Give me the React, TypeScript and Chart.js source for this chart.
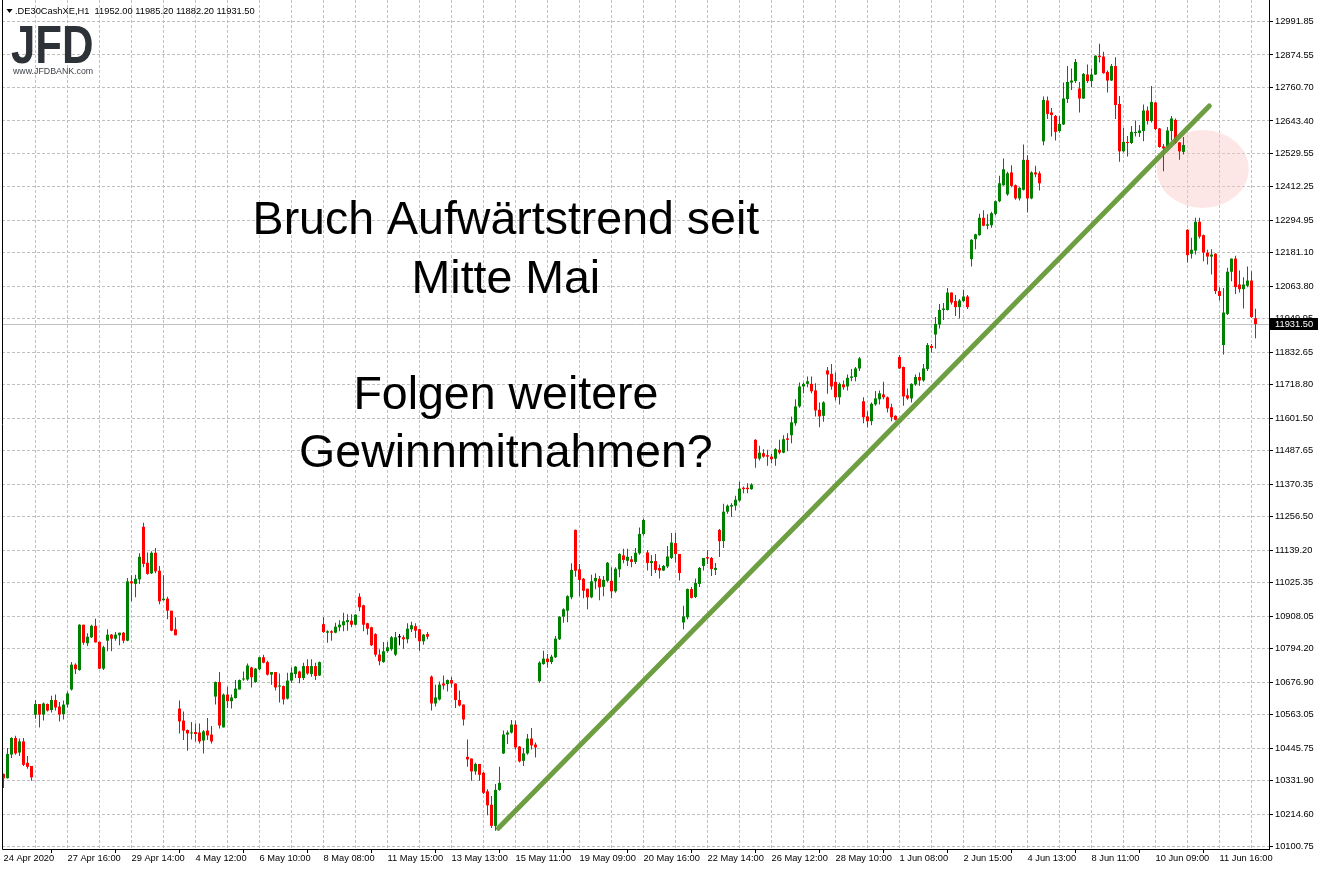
import React, { useEffect, useRef } from 'react';
import { Chart, registerables } from 'chart.js';

Chart.register(...registerables);

// ---- DATA (hourly bars, DE30CashXE) ----
const opens = [
  10355,10340,10423,10481,10430,10469,10394,10383,10563,10600,
  10563,10600,10579,10614,10591,10565,10598,10651,10738,10719,
  10878,10813,10834,10874,10818,10724,10822,10843,10829,10841,
  10850,10822,11030,11021,11037,11221,11095,11058,11130,11067,
  10964,10969,10927,10862,10584,10542,10509,10497,10502,10500,
  10472,10507,10493,10626,10677,10518,10633,10610,10621,10651,
  10686,10686,10728,10677,10722,10764,10747,10703,10712,10661,
  10663,10619,10682,10705,10714,10691,10733,10705,10733,10700,
  10880,10850,10855,10850,10869,10876,10887,10892,10878,10976,
  10946,10883,10869,10845,10773,10747,10785,10792,10773,10834,
  10834,10827,10862,10873,10862,10820,10845,10696,10602,10616,
  10672,10670,10684,10672,10614,10598,10415,10409,10364,10390,
  10359,10294,10247,10173,10299,10427,10493,10500,10528,10451,
  10401,10427,10479,10458,10680,10740,10759,10747,10764,10827,
  10906,10927,10974,11210,11072,11039,11004,10974,11030,11039,
  11011,11032,11032,10995,11072,11121,11102,11107,11098,11128,
  11196,11131,11094,11101,11077,11068,11082,11112,11164,11126,
  10886,10904,11003,10975,11021,11084,11115,11112,11070,11210,
  11171,11274,11292,11295,11313,11358,11358,11353,11526,11460,
  11479,11472,11467,11460,11491,11481,11531,11542,11584,11643,
  11713,11722,11722,11699,11631,11610,11769,11757,11729,11675,
  11720,11713,11743,11746,11776,11661,11608,11591,11650,11668,
  11685,11675,11640,11610,11816,11781,11682,11671,11720,11746,
  11734,11774,11855,11895,11930,11981,11981,12042,12012,11991,
  12012,12028,12159,12229,12243,12304,12276,12278,12318,12362,
  12418,12386,12463,12418,12372,12402,12507,12372,12463,12460,
  12572,12715,12673,12661,12608,12631,12720,12778,12783,12757,
  12722,12806,12783,12806,12872,12869,12815,12785,12836,12703,
  12537,12568,12566,12601,12601,12608,12680,12643,12708,12617,
  12554,12552,12608,12647,12568,12535,12262,12178,12189,12290,
  12243,12182,12168,12178,12047,11858,11967,12115,12161,12070,
  12054,12066,12084,11952.0,
];
const highs = [
  10357,10446,10484,10489,10479,10481,10418,10383,10614,10600,
  10605,10602,10629,10633,10607,10612,10644,10747,10743,10880,
  10878,10848,10878,10899,10818,10804,10862,10845,10852,10850,
  10852,11042,11051,11053,11128,11235,11131,11135,11147,11084,
  11051,10976,10927,10904,10612,10574,10511,10537,10532,10532,
  10509,10551,10523,10679,10712,10637,10661,10633,10684,10686,
  10714,10742,10731,10726,10766,10773,10752,10712,10712,10707,
  10665,10710,10728,10733,10717,10745,10757,10757,10745,10749,
  10904,10859,10859,10885,10894,10920,10915,10915,10915,10988,
  10948,10885,10871,10848,10792,10817,10817,10838,10852,10845,
  10841,10883,10888,10883,10864,10845,10852,10700,10668,10679,
  10700,10686,10696,10672,10647,10598,10476,10409,10394,10390,
  10362,10301,10278,10320,10380,10507,10507,10544,10542,10453,
  10446,10495,10516,10465,10750,10787,10775,10773,10838,10908,
  10936,10981,11093,11212,11091,11042,11004,11053,11058,11049,
  11049,11098,11079,11079,11128,11144,11144,11119,11147,11219,
  11250,11140,11122,11126,11089,11087,11154,11199,11199,11126,
  10944,11005,11010,11040,11080,11112,11140,11115,11094,11213,
  11302,11299,11304,11330,11379,11362,11374,11374,11528,11505,
  11493,11491,11477,11496,11526,11542,11549,11608,11668,11727,
  11727,11748,11748,11724,11657,11661,11781,11792,11762,11727,
  11734,11755,11774,11781,11816,11675,11626,11657,11697,11699,
  11729,11678,11652,11612,11823,11783,11706,11724,11755,11762,
  11792,11865,11862,11956,12002,12005,12058,12042,12033,12019,
  12052,12033,12229,12248,12318,12330,12316,12325,12365,12451,
  12512,12465,12488,12421,12411,12561,12523,12467,12486,12467,
  12729,12729,12689,12664,12661,12778,12836,12827,12860,12780,
  12811,12841,12827,12874,12914,12886,12820,12843,12867,12731,
  12619,12591,12626,12645,12629,12701,12694,12766,12710,12619,
  12563,12622,12661,12652,12570,12587,12264,12234,12304,12304,
  12245,12192,12194,12180,12061,12058,12129,12161,12171,12119,
  12096,12133,12117,11985.2,
];
const lows = [
  10306,10339,10411,10422,10418,10383,10373,10331,10548,10518,
  10542,10574,10570,10577,10539,10546,10588,10647,10705,10717,
  10808,10803,10831,10816,10722,10719,10785,10785,10822,10806,
  10813,10820,10960,10974,11021,11079,11053,11056,11058,10950,
  10962,10897,10855,10841,10497,10474,10436,10476,10469,10462,
  10427,10474,10462,10598,10514,10518,10586,10584,10619,10651,
  10682,10682,10658,10675,10719,10743,10700,10668,10647,10605,
  10598,10616,10675,10691,10673,10684,10703,10696,10684,10698,
  10850,10815,10822,10848,10855,10855,10857,10869,10876,10925,
  10855,10843,10803,10766,10736,10745,10780,10787,10768,10806,
  10794,10813,10852,10831,10787,10808,10827,10577,10591,10612,
  10651,10644,10658,10586,10591,10525,10380,10331,10352,10331,
  10285,10210,10166,10156,10296,10425,10460,10497,10441,10395,
  10383,10422,10441,10413,10675,10738,10728,10740,10761,10824,
  10885,10887,10967,11046,10978,10971,10932,10971,11002,10964,
  10978,11027,10971,10990,11044,11093,11084,11079,11091,11123,
  11191,11068,11049,11059,11040,11066,11077,11108,11096,11033,
  10862,10897,10970,10972,11010,11068,11091,11049,11052,11115,
  11147,11267,11255,11278,11309,11339,11339,11351,11428,11453,
  11463,11435,11444,11435,11475,11479,11486,11514,11575,11638,
  11689,11710,11689,11608,11570,11589,11687,11701,11664,11650,
  11701,11699,11731,11731,11767,11584,11570,11577,11645,11650,
  11668,11622,11591,11594,11774,11645,11666,11657,11715,11715,
  11729,11767,11832,11846,11916,11946,11979,12000,11960,11951,
  12009,11984,12133,12194,12241,12274,12264,12269,12313,12358,
  12416,12381,12411,12367,12365,12400,12323,12369,12446,12400,
  12558,12650,12589,12575,12603,12629,12706,12752,12776,12673,
  12720,12776,12762,12804,12848,12809,12743,12783,12650,12500,
  12533,12519,12563,12589,12587,12572,12631,12638,12612,12549,
  12467,12549,12575,12563,12507,12526,12147,12161,12175,12231,
  12152,12140,12105,12037,12014,11825,11963,12082,12037,12042,
  11986,12061,11953,11882.2,
];
const closes = [
  10340,10425,10481,10427,10469,10387,10380,10343,10600,10563,
  10602,10577,10614,10588,10563,10598,10637,10738,10722,10878,
  10815,10836,10874,10816,10724,10799,10843,10829,10843,10850,
  10822,11030,11023,11039,11116,11091,11056,11130,11065,10960,
  10969,10927,10857,10841,10539,10507,10497,10500,10495,10469,
  10504,10490,10469,10677,10525,10633,10610,10623,10654,10684,
  10689,10735,10694,10724,10764,10745,10703,10712,10658,10665,
  10616,10682,10710,10731,10691,10733,10707,10733,10698,10747,
  10852,10855,10850,10871,10878,10890,10894,10878,10913,10939,
  10878,10864,10806,10773,10750,10785,10799,10834,10834,10834,
  10827,10864,10876,10857,10820,10843,10836,10602,10623,10668,
  10665,10684,10672,10614,10595,10546,10406,10364,10390,10352,
  10289,10245,10173,10299,10324,10493,10500,10528,10448,10399,
  10427,10479,10455,10448,10745,10759,10747,10766,10829,10906,
  10932,10978,11070,11067,11035,10997,10974,11030,11042,11009,
  11035,11095,10995,11074,11126,11105,11116,11098,11130,11196,
  11245,11094,11101,11070,11068,11084,11117,11166,11126,11059,
  10907,11003,10972,11024,11077,11112,11110,11073,11077,11171,
  11274,11295,11297,11316,11355,11353,11353,11369,11460,11481,
  11467,11467,11458,11493,11481,11528,11526,11587,11643,11713,
  11722,11731,11696,11629,11608,11657,11755,11713,11675,11722,
  11710,11743,11748,11776,11811,11605,11591,11652,11671,11689,
  11675,11636,11605,11596,11776,11678,11671,11722,11746,11734,
  11776,11858,11848,11932,11981,11986,12042,12007,11991,12014,
  12028,11991,12227,12246,12304,12276,12281,12320,12362,12425,
  12474,12460,12416,12372,12409,12507,12372,12463,12456,12425,
  12717,12668,12664,12605,12633,12722,12780,12785,12850,12722,
  12808,12783,12806,12872,12867,12811,12785,12836,12699,12537,
  12570,12566,12605,12603,12610,12680,12643,12710,12615,12552,
  12547,12610,12652,12566,12537,12559,12173,12192,12290,12238,
  12182,12168,12175,12047,12030,11972,12115,12161,12061,12054,
  12070,12084,11956,11931.5,
];

// time labels shown every 16 bars (gridlines every 8 bars)
const timeTickLabels = [
  '24 Apr 2020', '27 Apr 16:00', '29 Apr 14:00', '4 May 12:00', '6 May 10:00',
  '8 May 08:00', '11 May 15:00', '13 May 13:00', '15 May 11:00', '19 May 09:00',
  '20 May 16:00', '22 May 14:00', '26 May 12:00', '28 May 10:00', '1 Jun 08:00',
  '2 Jun 15:00', '4 Jun 13:00', '8 Jun 11:00', '10 Jun 09:00', '11 Jun 16:00',
];
const BARS_PER_LABEL = 16;
const BARS_PER_GRID = 8;

const priceTicks = [
  12991.85, 12874.55, 12760.70, 12643.40, 12529.55, 12412.25, 12294.95, 12181.10,
  12063.80, 11949.95, 11832.65, 11718.80, 11601.50, 11487.65, 11370.35, 11256.50,
  11139.20, 11025.35, 10908.05, 10794.20, 10676.90, 10563.05, 10445.75, 10331.90,
  10214.60, 10100.75,
];

const headerText = '.DE30CashXE,H1  11952.00 11985.20 11882.20 11931.50';
const lastPrice = 11931.5;

// annotations in data coordinates (bar index, price)
const trendLine = [
  { i: 123.7, p: 10164.5 },
  { i: 301.45, p: 12695.7 },
];
const highlight = { i: 299.8, p: 12475.0 };
const commentLines = [
  { text: 'Bruch Aufwärtstrend seit', i: 125.6, p: 12246.2 },
  { text: 'Mitte Mai', i: 125.6, p: 12039.4 },
  { text: 'Folgen weitere', i: 125.6, p: 11633.9 },
  { text: 'Gewinnmitnahmen?', i: 125.6, p: 11431.7 },
];

// ---- STYLE ----
const W = 1319;
const H = 870;
const X_MIN = -0.375;
const X_MAX = 316.375;
const Y_MIN = 10091.99;
const Y_MAX = 13067.19;
const BULL = '#008000';
const BEAR = '#ff0000';
const DOJI = '#000000';
const GRID = '#c0c0c0';
const FONT = "'Liberation Sans', Arial, sans-serif";
const AXIS_FONT_SIZE = 9.3;

const candleColor = (i: number) =>
  closes[i] > opens[i] ? BULL : closes[i] < opens[i] ? BEAR : DOJI;

const mtPlugin = {
  id: 'mt4look',
  beforeDraw(chart: any) {
    const { ctx } = chart;
    ctx.save();
    ctx.fillStyle = '#ffffff';
    ctx.fillRect(0, 0, chart.width, chart.height);
    ctx.restore();
  },
  beforeDatasetsDraw(chart: any) {
    const { ctx, chartArea: a, scales } = chart;
    const xs = scales.x;
    const ys = scales.y;
    ctx.save();
    // dashed grid
    ctx.strokeStyle = GRID;
    ctx.lineWidth = 1;
    ctx.setLineDash([3, 2]);
    ctx.beginPath();
    xs.ticks.forEach((t: any) => {
      if (t.value === 0) return;
      const px = Math.floor(xs.getPixelForValue(t.value) + 0.01) + 0.5;
      ctx.moveTo(px, a.top);
      ctx.lineTo(px, a.bottom);
    });
    ys.ticks.forEach((t: any) => {
      const py = Math.floor(ys.getPixelForValue(t.value) + 0.01) + 0.5;
      ctx.moveTo(a.left, py);
      ctx.lineTo(a.right, py);
    });
    ctx.stroke();
    ctx.setLineDash([]);
    // highlight ellipse
    const cx = xs.getPixelForValue(highlight.i);
    const cy = ys.getPixelForValue(highlight.p);
    ctx.fillStyle = 'rgba(250, 200, 200, 0.45)';
    ctx.beginPath();
    ctx.ellipse(cx, cy, 46, 39, 0, 0, Math.PI * 2);
    ctx.fill();
    // last price line
    const lp = Math.floor(ys.getPixelForValue(lastPrice) + 0.01) + 0.5;
    ctx.strokeStyle = '#c0c0c0';
    ctx.beginPath();
    ctx.moveTo(a.left, lp);
    ctx.lineTo(a.right, lp);
    ctx.stroke();
    ctx.restore();
  },
  afterDatasetsDraw(chart: any) {
    const { ctx, chartArea: a, scales } = chart;
    const xs = scales.x;
    const ys = scales.y;
    ctx.save();
    // trend line
    ctx.strokeStyle = 'rgba(98, 150, 50, 0.92)';
    ctx.lineWidth = 5;
    ctx.lineCap = 'round';
    ctx.beginPath();
    ctx.moveTo(xs.getPixelForValue(trendLine[0].i), ys.getPixelForValue(trendLine[0].p));
    ctx.lineTo(xs.getPixelForValue(trendLine[1].i), ys.getPixelForValue(trendLine[1].p));
    ctx.stroke();

    // comment text
    ctx.fillStyle = '#000';
    ctx.font = `46.5px ${FONT}`;
    ctx.textAlign = 'center';
    ctx.textBaseline = 'alphabetic';
    commentLines.forEach((l) => {
      ctx.fillText(l.text, xs.getPixelForValue(l.i), ys.getPixelForValue(l.p));
    });

    // header
    ctx.textAlign = 'left';
    ctx.textBaseline = 'middle';
    ctx.font = `${AXIS_FONT_SIZE}px ${FONT}`;
    ctx.fillText(headerText, 15, 11);
    ctx.beginPath();
    ctx.moveTo(6.5, 9);
    ctx.lineTo(12.5, 9);
    ctx.lineTo(9.5, 13);
    ctx.closePath();
    ctx.fill();

    // logo
    ctx.save();
    ctx.fillStyle = '#2d3238';
    ctx.font = `bold 54px ${FONT}`;
    ctx.textBaseline = 'alphabetic';
    ctx.translate(11, 63);
    ctx.scale(0.81, 1);
    ctx.fillText('JFD', 0, 0);
    ctx.restore();
    ctx.fillStyle = '#3d4248';
    ctx.font = `8.8px ${FONT}`;
    ctx.textBaseline = 'alphabetic';
    ctx.fillText('www.JFDBANK.com', 13, 74);

    // borders
    ctx.strokeStyle = '#000';
    ctx.lineWidth = 1;
    ctx.beginPath();
    ctx.moveTo(a.left + 0.5, a.top);
    ctx.lineTo(a.left + 0.5, a.bottom + 0.5);
    ctx.lineTo(a.right + 0.5, a.bottom + 0.5);
    ctx.moveTo(a.right + 0.5, a.top);
    ctx.lineTo(a.right + 0.5, a.bottom + 0.5);
    ctx.stroke();
    ctx.restore();
  },
  afterDraw(chart: any) {
    const { ctx, chartArea: a, scales } = chart;
    const ys = scales.y;
    const lp = Math.floor(ys.getPixelForValue(lastPrice) + 0.01);
    ctx.save();
    ctx.fillStyle = '#000';
    ctx.fillRect(a.right + 1, lp - 6, 48, 12);
    ctx.fillStyle = '#fff';
    ctx.font = `${AXIS_FONT_SIZE}px ${FONT}`;
    ctx.textAlign = 'left';
    ctx.textBaseline = 'middle';
    ctx.fillText(lastPrice.toFixed(2), a.right + 6, lp + 0.5);
    ctx.restore();
  },
};

export default function App() {
  const ref = useRef<HTMLCanvasElement | null>(null);

  useEffect(() => {
    document.body.style.margin = '0';
    const canvas = ref.current;
    if (!canvas) return;
    const idx = opens.map((_, i) => i);
    const colors = idx.map(candleColor);
    const gridTicks: number[] = [];
    const lastGrid = (timeTickLabels.length - 1) * BARS_PER_LABEL + BARS_PER_GRID;
    for (let v = 0; v <= lastGrid; v += BARS_PER_GRID) gridTicks.push(v);

    const chart = new Chart(canvas, {
      type: 'bar',
      data: {
        datasets: [
          {
            label: 'wick',
            data: idx.map((i) => ({ x: i, y: [lows[i], highs[i]] })) as any,
            backgroundColor: colors,
            barThickness: 1,
            grouped: false,
            inflateAmount: 0,
            borderWidth: 0,
            order: 2,
          } as any,
          {
            label: 'body',
            data: idx.map((i) => ({ x: i, y: [opens[i], closes[i]] })) as any,
            backgroundColor: colors,
            barThickness: 3,
            minBarLength: 1,
            grouped: false,
            inflateAmount: 0,
            borderWidth: 0,
            order: 1,
          } as any,
        ],
      },
      options: {
        animation: false,
        responsive: false,
        maintainAspectRatio: false,
        events: [],
        layout: { padding: { left: 2, top: 0, right: 0, bottom: 0 } },
        plugins: { legend: { display: false }, tooltip: { enabled: false } },
        scales: {
          x: {
            type: 'linear',
            min: X_MIN,
            max: X_MAX,
            offset: false,
            afterBuildTicks: (s: any) => {
              s.ticks = gridTicks.map((v) => ({ value: v }));
            },
            afterFit: (s: any) => {
              s.height = 21;
              s.paddingLeft = 0;
              s.paddingRight = 0;
            },
            grid: {
              display: true,
              drawOnChartArea: false,
              drawTicks: true,
              tickLength: 4,
              color: '#000',
              tickColor: (ctx: any) =>
                ctx.tick && ctx.tick.value % BARS_PER_LABEL === 0 ? '#000' : 'rgba(0,0,0,0)',
            },
            border: { display: false },
            ticks: {
              autoSkip: false,
              maxRotation: 0,
              minRotation: 0,
              align: 'start',
              padding: 0,
              color: '#000',
              font: { family: FONT, size: AXIS_FONT_SIZE },
              callback: (v: any) =>
                Number(v) % BARS_PER_LABEL === 0 ? timeTickLabels[Number(v) / BARS_PER_LABEL] ?? '' : '',
            },
          },
          y: {
            type: 'linear',
            position: 'right',
            min: Y_MIN,
            max: Y_MAX,
            afterBuildTicks: (s: any) => {
              s.ticks = priceTicks.map((v) => ({ value: v }));
            },
            afterFit: (s: any) => {
              s.width = 50;
              s.paddingTop = 0;
              s.paddingBottom = 0;
            },
            grid: {
              display: true,
              drawOnChartArea: false,
              drawTicks: true,
              tickLength: 4,
              color: '#000',
            },
            border: { display: false },
            ticks: {
              autoSkip: false,
              padding: 2,
              color: '#000',
              font: { family: FONT, size: AXIS_FONT_SIZE },
              callback: (v: any) => Number(v).toFixed(2),
            },
          },
        },
      } as any,
      plugins: [mtPlugin],
    });
    return () => chart.destroy();
  }, []);

  return (
    <div style={{ width: W, height: H, position: 'relative' }}>
      <canvas ref={ref} width={W} height={H} style={{ display: 'block', width: W, height: H }} />
    </div>
  );
}
